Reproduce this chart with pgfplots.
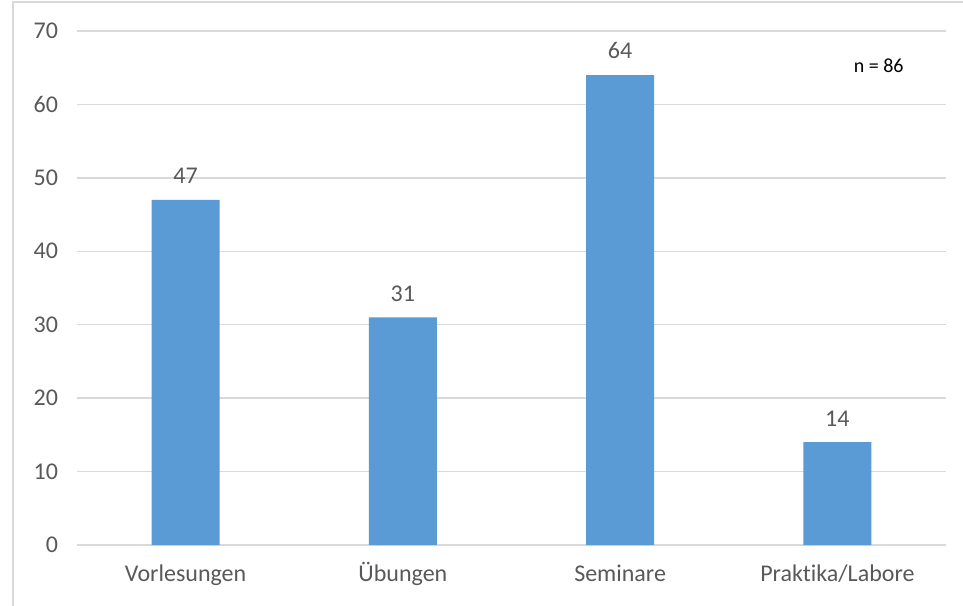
\documentclass[border=0pt]{standalone}
\usepackage{pgfplots}
\pgfplotsset{compat=1.18}
\usepackage{fontspec}
\setmainfont{Carlito}[Ligatures=NoCommon]
\definecolor{barblue}{HTML}{5B9BD5}
\definecolor{gridgray}{HTML}{D9D9D9}
\definecolor{textgray}{HTML}{595959}
\begin{document}
\begin{tikzpicture}[x=1pt,y=1pt]
  \clip (0,0) rectangle (481.5,302.5);
  \fill[white] (0,0) rectangle (481.5,302.5);
  % chart frame (extends past the right and bottom edges)
  \draw[gridgray, line width=1pt] (6.5,-10) -- (6.5,301.5) -- (500,301.5);
  \begin{axis}[
    at={(38.5pt,30pt)}, anchor=south west,
    scale only axis,
    width=434.5pt, height=257pt,
    xmin=-0.5, xmax=3.5,
    ymin=0, ymax=70,
    ytick={0,10,...,70},
    xtick=data,
    xticklabels={Vorlesungen,Übungen,Seminare,Praktika/Labore},
    axis lines=left,
    axis line style={draw=none},
    major tick length=0pt,
    ymajorgrids,
    grid style={gridgray, line width=0.75pt},
    tick label style={font=\fontsize{12}{14}\selectfont, text=textgray},
    /pgf/number format/assume math mode=true,
    yticklabel style={xshift=-6pt},
    xticklabel style={yshift=-6pt, text height=8.5pt, text depth=3pt},
    clip=false,
  ]
    \addplot[ybar, bar width=34pt, fill=barblue, draw=none,
      nodes near coords,
      every node near coord/.append style={font=\fontsize{12}{14}\selectfont, text=textgray, anchor=south, yshift=4.5pt}]
      coordinates {(0,47) (1,31) (2,64) (3,14)};
    \node[font=\fontsize{10}{12}\selectfont, text=black] at (axis cs:3.19,65.2) {n = 86};
  \end{axis}
\end{tikzpicture}
\end{document}
